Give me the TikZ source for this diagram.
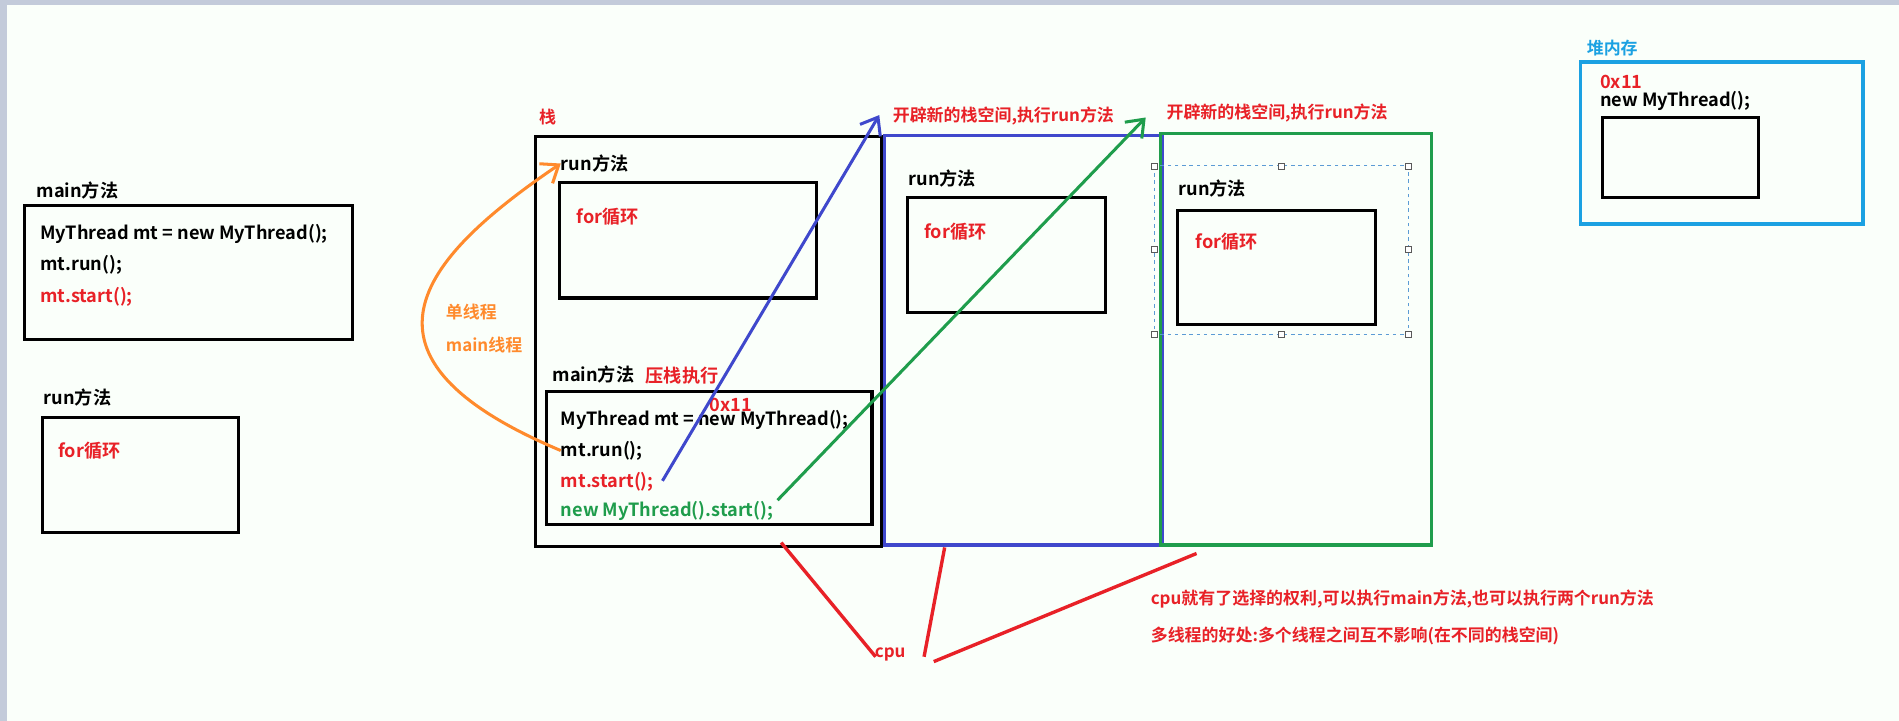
\documentclass[tikz,border=0pt]{standalone}
\usepackage{fontspec}
\setmainfont{Noto Sans CJK SC}[BoldFont={Noto Sans CJK SC Bold}]
\usetikzlibrary{arrows.meta}
\definecolor{pBlue}{HTML}{3F48CC}
\definecolor{pGreen}{HTML}{1F9D4C}
\definecolor{pRed}{HTML}{E82127}
\definecolor{pOrange}{HTML}{FF8A2C}
\definecolor{pSky}{HTML}{1BA1E2}
\definecolor{pSel}{HTML}{5B9BD5}
\definecolor{pEdge}{HTML}{C3CBDA}
\newcommand{\frm}[5]{\draw[#5] (#1,#2) rectangle (#3,#4);}
\newcommand{\bfrm}[4]{\frm{#1}{#2}{#3}{#4}{line width=2.6pt}}
\newcommand{\hdl}[2]{\draw[gray!70!black, fill=white, line width=0.6pt] (#1-2.5,#2-2.5) rectangle (#1+2.5,#2+2.5);}

\begin{document}
\begin{tikzpicture}[x=1pt, y=-1pt,
  txt/.style={anchor=west, inner sep=0pt, font=\bfseries\fontsize{15}{17}\selectfont},
  rtxt/.style={txt, text=pRed},
  gtxt/.style={txt, text=pGreen},
  otxt/.style={txt, text=pOrange},
  small/.style={font=\bfseries\fontsize{14}{16}\selectfont},
  arw/.style={line width=2.5pt, -{Straight Barb[angle=75:16pt]}},
  cpuline/.style={pRed, line width=2.8pt}]
% background
\fill[pEdge] (0,0) rectangle (1568,595);
\fill[white!98!green] (6,4) rectangle (1568,595);
\useasboundingbox (0,0) rectangle (1568,595);

% left: source code
\node[txt] (mainA) at (30,157) {main方法};
\bfrm{20}{170}{291}{280}
\node[txt] (newA) at (33,193) {MyThread mt = new MyThread();};
\node[txt] (runA) at (33,219) {mt.run();};
\node[rtxt] (startA) at (33,245) {mt.start();};
\node[txt] (runlA) at (36,328) {run方法};
\bfrm{35}{345}{197}{440}
\node[rtxt] (forA) at (48,372) {for循环};

% main stack
\node[rtxt, small] (stk) at (445,97) {栈};
\bfrm{442}{113}{728}{451}
\node[txt] (runlB) at (463,135) {run方法};
\bfrm{462}{151}{674}{246}
\node[rtxt] (forB) at (476,179) {for循环};
\node[txt] (mainB) at (456,309) {main方法};
\node[rtxt] (push) at (533,310) {压栈执行};
\bfrm{451}{323}{720}{433}
\node[rtxt] (addrB) at (586,334) {0x11};
\node[txt] (newB) at (463,347) {MyThread mt = new MyThread();};
\node[txt] (runB) at (463,372) {mt.run();};
\node[rtxt] (startB) at (463,398) {mt.start();};
\node[gtxt] (thrB) at (463,422) {new MyThread().start();};
\node[otxt, small] (single) at (368,258) {单线程};
\node[otxt, small] (mainth) at (368,285) {main线程};

% second stack
\frm{730}{112}{960}{450}{pBlue, line width=2.6pt}
\node[rtxt, small] (openC) at (737,96) {开辟新的栈空间,执行run方法};
\node[txt] (runlC) at (750,147) {run方法};
\bfrm{749}{163}{913}{258}
\node[rtxt] (forC) at (763,191) {for循环};

% third stack
\frm{958}{110}{1182}{450}{pGreen, line width=2.6pt}
\node[rtxt, small] (openD) at (963,93) {开辟新的栈空间,执行run方法};
\frm{953}{137}{1163}{276}{pSel, dashed, line width=0.8pt}
\foreach \hx in {953,1058,1163} {\hdl{\hx}{137} \hdl{\hx}{276}}
\hdl{953}{206} \hdl{1163}{206}
\node[txt] (runlD) at (973,156) {run方法};
\bfrm{972}{174}{1136}{268}
\node[rtxt] (forD) at (987,200) {for循环};

% heap
\node[txt, small, text=pSky] (heap) at (1310,40) {堆内存};
\frm{1305}{51}{1538}{185}{pSky, line width=3.2pt}
\node[rtxt] (addrE) at (1321,68) {0x11};
\node[txt] (newE) at (1321,83) {new MyThread();};
\bfrm{1323}{97}{1452}{163}

% arrows
\draw[pOrange, arw] (runB.west) .. controls (280,295) and (345,215) .. (runlB.west);
\coordinate (blueS) at (547,397);
\coordinate (blueE) at (726,95);
\draw[pBlue, arw] (blueS) -- (blueE);
\coordinate (grnS) at (642,413);
\coordinate (grnE) at (946,97);
\draw[pGreen, arw] (grnS) -- (grnE);

% cpu
\node[rtxt, small, anchor=center] (cpu) at (735,540) {cpu};
\coordinate (c1) at (645,448);
\coordinate (c2) at (780,452);
\coordinate (c3) at (988,457);
\draw[cpuline] (c1) -- ([xshift=-12pt,yshift=-8pt]cpu.north);
\draw[cpuline] (c2) -- ([xshift=28pt,yshift=-8pt]cpu.north);
\draw[cpuline] (c3) -- ([xshift=36pt,yshift=-12pt]cpu.north);
\node[rtxt, small] (note1) at (950,495) {cpu就有了选择的权利,可以执行main方法,也可以执行两个run方法};
\node[rtxt, small] (note2) at (950,525) {多线程的好处:多个线程之间互不影响(在不同的栈空间)};
\end{tikzpicture}
\end{document}
